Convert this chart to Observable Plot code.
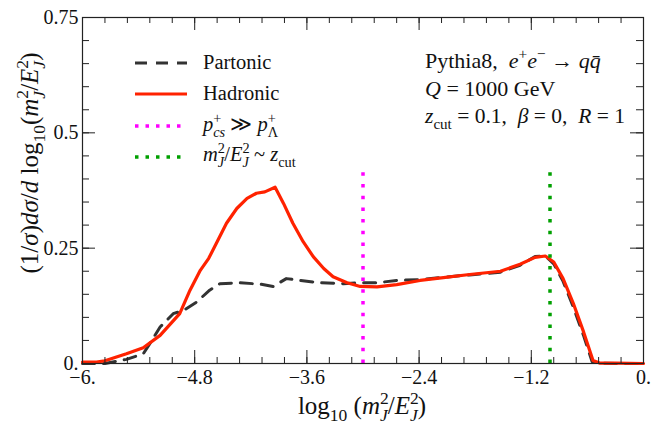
<!DOCTYPE html>
<html><head><meta charset="utf-8">
<script src="https://cdn.jsdelivr.net/npm/d3@7"></script>
<script src="https://cdn.jsdelivr.net/npm/@observablehq/plot@0.6"></script>
<style>
body{margin:0;background:#fff}
#chart svg text, #chart svg tspan { font-family: "Liberation Serif", "Times New Roman", "DejaVu Serif", serif; }
</style>
</head><body><div id="chart"></div>
<script>
// ---- data ----
const hadX = [-6, -5.85, -5.76, -5.53, -5.35, -5.17, -4.96, -4.85, -4.74, -4.65, -4.56, -4.46, -4.35, -4.24, -4.14, -4.05, -3.94, -3.85, -3.75, -3.64, -3.53, -3.42, -3.32, -3.17, -3.03, -2.85, -2.64, -2.39, -2.14, -1.86, -1.53, -1.32, -1.16, -1.05, -0.96, -0.86, -0.75, -0.64, -0.54, -0.47, -0.3, 0];
const hadY = [0.003, 0.003, 0.006, 0.021, 0.034, 0.061, 0.108, 0.159, 0.202, 0.228, 0.264, 0.304, 0.336, 0.358, 0.369, 0.372, 0.382, 0.347, 0.304, 0.264, 0.231, 0.206, 0.188, 0.175, 0.167, 0.166, 0.171, 0.180, 0.186, 0.193, 0.200, 0.215, 0.230, 0.233, 0.220, 0.184, 0.130, 0.068, 0.0065, 0.001, 0.001, 0];
const parX = [-6, -5.76, -5.53, -5.35, -5.28, -5.17, -5.03, -4.92, -4.78, -4.64, -4.53, -4.32, -4.10, -3.96, -3.82, -3.67, -3.46, -3.21, -3.03, -2.85, -2.64, -2.39, -2.14, -1.86, -1.53, -1.32, -1.16, -1.05, -0.96, -0.86, -0.75, -0.64, -0.55, -0.47, -0.3, 0];
const parY = [0, 0, 0.009, 0.021, 0.043, 0.079, 0.108, 0.115, 0.133, 0.159, 0.173, 0.175, 0.172, 0.167, 0.184, 0.180, 0.175, 0.173, 0.175, 0.175, 0.180, 0.182, 0.187, 0.192, 0.198, 0.213, 0.232, 0.233, 0.216, 0.178, 0.122, 0.060, 0.004, 0.001, 0, 0];
const vlineX = [-3, -1];
const vlineTop = [0.415, 0.415];
const vlineColors = ["#ff00ff", "#00a000"];
const xMajor = [-6, -4.8, -3.6, -2.4, -1.2, 0];
const xMajorLabels = ["−6.", "−4.8", "−3.6", "−2.4", "−1.2", "0."];
const yMajor = [0, 0.25, 0.5, 0.75];
const yMajorLabels = ["0.", "0.25", "0.5", "0.75"];
const xMinor = d3.range(26).map(i => -6 + i * 0.24);
const yMinor = d3.range(16).map(i => i * 0.05);
const legendColors = ["#333333", "#ff2200", "#ff00ff", "#00a000"];

// ---- layout ----
const FONT = '"Liberation Serif", "Times New Roman", "DejaVu Serif", serif';
const W = 652, H = 426, mL = 82, mR = 9, mT = 17, mB = 63;
const plotW = W - mL - mR, plotH = H - mT - mB;
const RED = "#ff2200", DARK = "#333333";
const had = hadX.map((x, i) => ({x, y: hadY[i]}));
const par = parX.map((x, i) => ({x, y: parY[i]}));
const vlines = vlineX.map((x, i) => ({x, top: vlineTop[i], c: vlineColors[i]}));
const axc = "#222";

const chart = Plot.plot({
  width: W, height: H,
  marginLeft: mL, marginRight: mR, marginTop: mT, marginBottom: mB,
  style: {fontFamily: FONT, background: "#fff", color: "#111"},
  x: {domain: [-6, 0]},
  y: {domain: [0, 0.75]},
  marks: [
    Plot.line(par, {x: "x", y: "y", stroke: DARK, strokeWidth: 3, strokeDasharray: "12,9"}),
    Plot.line(had, {x: "x", y: "y", stroke: RED, strokeWidth: 3.2}),
    Plot.ruleX(vlines, {x: "x", y1: 0, y2: "top", stroke: "c", strokeWidth: 3.5, strokeDasharray: "3.5,8.2"}),
    Plot.frame({stroke: axc, strokeWidth: 1.2}),
    Plot.tickX(xMinor, {x: d => d, insetTop: plotH - 6, stroke: axc}),
    Plot.tickX(xMajor, {x: d => d, insetTop: plotH - 13, stroke: axc}),
    Plot.tickX(xMinor, {x: d => d, insetBottom: plotH - 6, stroke: axc}),
    Plot.tickX(xMajor, {x: d => d, insetBottom: plotH - 13, stroke: axc}),
    Plot.tickY(yMinor, {y: d => d, insetRight: plotW - 7, stroke: axc}),
    Plot.tickY(yMajor, {y: d => d, insetRight: plotW - 13, stroke: axc}),
    Plot.tickY(yMinor, {y: d => d, insetLeft: plotW - 7, stroke: axc}),
    Plot.tickY(yMajor, {y: d => d, insetLeft: plotW - 13, stroke: axc}),
    Plot.axisX(xMajor, {tickSize: 0, tickPadding: 6, fontSize: 20, label: null,
      tickFormat: d => xMajorLabels[xMajor.indexOf(d)]}),
    Plot.axisY(yMajor, {tickSize: 0, tickPadding: 4, fontSize: 20, label: null,
      tickFormat: d => yMajorLabels[yMajor.indexOf(d)]})
  ]
});
document.getElementById("chart").appendChild(chart);

// ---- rich text helper (real SVG text with tspans) ----
const svg = d3.select(chart);
function rich(x, y, parts, fs, opts = {}) {
  const t = svg.append("text").attr("x", x).attr("y", y).attr("font-size", fs)
    .style("font-family", FONT).attr("fill", "#111")
    .attr("text-anchor", opts.anchor || "start");
  if (opts.transform) t.attr("transform", opts.transform);
  let cur = 0, lastSup = 0;
  for (const p of parts) {
    const target = p.s === "sup" ? -0.4 * fs : p.s === "sub" ? 0.28 * fs : 0;
    const ts = t.append("tspan").text(p.t);
    if (p.s) ts.attr("font-size", 0.7 * fs);
    if (p.i) ts.attr("font-style", "italic");
    const dy = target - cur;
    if (dy) ts.attr("dy", dy);
    cur = target;
    if (p.stack) ts.attr("dx", -lastSup);
    if (p.s === "sup") lastSup = ts.node().getComputedTextLength();
  }
  return t;
}
const mJ = [{t: "m", i: 1}, {t: "2", s: "sup"}, {t: "J", s: "sub", i: 1, stack: 1}, {t: "/"},
            {t: "E", i: 1}, {t: "2", s: "sup"}, {t: "J", s: "sub", i: 1, stack: 1}];

// axis titles
rich(0, 0, [{t: "(1/"}, {t: "σ", i: 1}, {t: ")"}, {t: "dσ", i: 1}, {t: "/"}, {t: "d", i: 1}, {t: " log"}, {t: "10", s: "sub"},
  {t: "("}, ...mJ, {t: ")"}], 25, {anchor: "middle", transform: "translate(38,163) rotate(-90)"});
rich(362, 414, [{t: "log"}, {t: "10", s: "sub"}, {t: " ("}, ...mJ, {t: ")"}], 25, {anchor: "middle"});

// legend
const legendParts = [
  [{t: "Partonic"}],
  [{t: "Hadronic"}],
  [{t: "p", i: 1}, {t: "+", s: "sup"}, {t: "cs", s: "sub", i: 1, stack: 1}, {t: " ≫ "}, {t: "p", i: 1}, {t: "+", s: "sup"}, {t: "Λ", s: "sub", stack: 1}],
  [...mJ, {t: " ~ "}, {t: "z", i: 1}, {t: "cut", s: "sub"}]
];
const legendDash = ["12,9", null, "3.5,7", "3.5,7"];
const legendLineY = [63, 94, 126, 157];
const legendTextY = [69, 100, 131, 161];
legendParts.forEach((parts, i) => {
  const l = svg.append("line").attr("x1", 135).attr("x2", 187).attr("y1", legendLineY[i]).attr("y2", legendLineY[i])
    .attr("stroke", legendColors[i]).attr("stroke-width", i < 2 ? 3.2 : 3.5);
  if (legendDash[i]) l.attr("stroke-dasharray", legendDash[i]);
  rich(203, legendTextY[i], parts, 20.5);
});

// annotation
rich(425, 68, [{t: "Pythia8,  "}, {t: "e", i: 1}, {t: "+", s: "sup"}, {t: "e", i: 1}, {t: "−", s: "sup"}, {t: " → "}, {t: "q", i: 1}, {t: "q\u0304", i: 1}], 22);
rich(425, 96, [{t: "Q", i: 1}, {t: " = 1000 GeV"}], 22);
rich(425, 123, [{t: "z", i: 1}, {t: "cut", s: "sub"}, {t: " = 0.1,  "}, {t: "β", i: 1}, {t: " = 0,  "}, {t: "R", i: 1}, {t: " = 1"}], 21.5);
</script>
</body></html>
